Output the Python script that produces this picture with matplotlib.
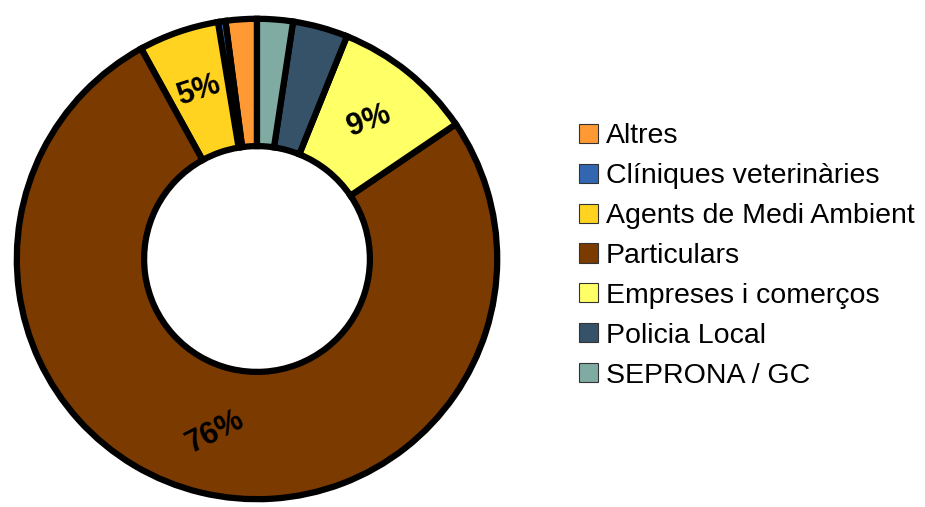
import matplotlib.pyplot as plt
from matplotlib.patches import Patch

plt.rcParams['font.family'] = ['Liberation Sans', 'DejaVu Sans']

# categories and shares (%)
categories = ["Altres", "Clíniques veterinàries", "Agents de Medi Ambient",
              "Particulars", "Empreses i comerços", "Policia Local", "SEPRONA / GC"]
shares = [2.1, 0.5, 5.4, 76.4, 9.4, 3.7, 2.4]
colors = ["#FF9933", "#3366B0", "#FFD320", "#7B3A00", "#FFFF66", "#355269", "#80ABA3"]
shown_labels = ["", "", "5%", "76%", "9%", "", ""]
label_rot = [0, 0, 18, 27, 20, 0, 0]

fig = plt.figure(figsize=(9.25, 5.07), dpi=100)
ax = fig.add_axes([12 / 925, 3 / 507, 490 / 925, 490 / 507])

wedges, texts = ax.pie(shares, colors=colors, startangle=90, counterclock=True,
                       radius=1.0, labels=shown_labels, labeldistance=0.74,
                       wedgeprops=dict(width=0.53, edgecolor="black", linewidth=4.5),
                       textprops=dict(fontsize=22, fontweight="bold", color="black",
                                      ha="center", va="center"))
for t, r in zip(texts, label_rot):
    t.set_rotation(r)
    t.set_horizontalalignment("center")

ax.set_xlim(-1.02, 1.02)
ax.set_ylim(-1.02, 1.02)
ax.set_aspect("equal")
ax.axis("off")

handles = [Patch(facecolor=c, edgecolor="#333333", linewidth=0.8) for c in colors]
fig.legend(handles, categories, loc="center left", bbox_to_anchor=(579 / 925, 1 - 256 / 507),
           frameon=False, fontsize=20.5, handlelength=0.65, handleheight=0.65,
           handletextpad=0.3, labelspacing=0.49, borderpad=0, borderaxespad=0)

fig.savefig("out.png", dpi=100)
